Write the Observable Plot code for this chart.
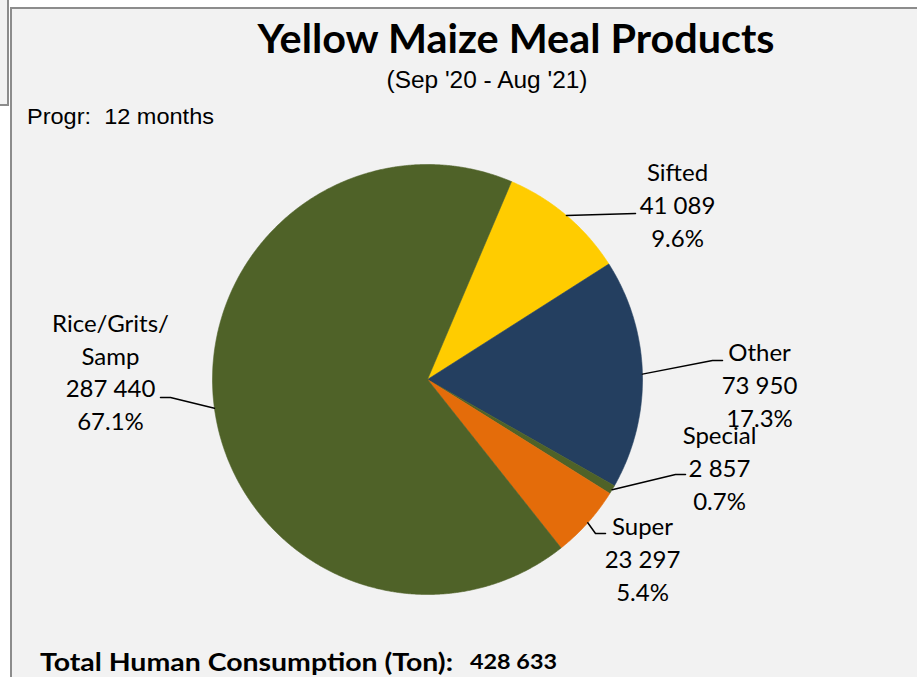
<!DOCTYPE html>
<html><head><meta charset="utf-8">
<script src="https://cdn.jsdelivr.net/npm/d3@7"></script>
<script src="https://cdn.jsdelivr.net/npm/@observablehq/plot@0.6"></script>
<style>
html,body{margin:0;padding:0;background:#fff;width:917px;height:677px;overflow:hidden;position:relative;}
#side{position:absolute;left:0;top:0;width:7px;height:104px;background:#f2f2f2;border-right:2px solid #8c8c8c;border-bottom:2px solid #8c8c8c;}
#panel{position:absolute;left:10px;top:7px;width:930px;height:690px;background:#f2f2f2;border-left:2px solid #8c8c8c;border-top:2px solid #8c8c8c;}
#chart{position:absolute;left:0;top:0;}
.t{position:absolute;white-space:nowrap;color:#000;line-height:1;}
#title{left:516px;top:38px;font:bold 40px Lato,sans-serif;}
#sub{left:487px;top:80px;font:23px "Liberation Sans",Arial,sans-serif;}
#progr{left:27px;top:117px;font:22px "Liberation Sans",Arial,sans-serif;}
#total{left:40px;top:661px;font:bold 24px Lato,sans-serif;}
#totalv{left:470px;top:660px;font:bold 21px Lato,sans-serif;}
</style></head><body>
<div id="side"></div><div id="panel"></div>
<div id="chart"></div>
<div class="t" id="title">Yellow Maize Meal Products</div>
<div class="t" id="sub">(Sep '20 - Aug '21)</div>
<div class="t" id="progr">Progr:&nbsp; 12 months</div>
<div class="t" id="total">Total Human Consumption (Ton):</div>
<div class="t" id="totalv"></div>
<script>
// ---- data ----
const categories = ["Sifted", "Other", "Special", "Super", "Rice/Grits/\nSamp"];
const values = [41089, 73950, 2857, 23297, 287440];
const palette = ["#FFCC00", "#243F60", "#4F6228", "#E46C0A", "#4F6228"];
const startDeg = 23;

// ---- layout (pixels) ----
const W = 917, H = 677, cx = 427, cy = 379, R = 215;
// label block centre and leader-line elbow/end points
const labelPos = [[677, 203], [759, 383], [719, 466], [642, 557], [110, 370]];
const leaderEnds = [
  [[635, 213]],
  [[712, 360], [722, 360]],
  [[675, 474], [685, 474]],
  [[595, 533], [605, 533]],
  [[170, 397], [160, 397]]
];

const fmt = d3.formatLocale({thousands: " ", grouping: [3], decimal: ".", currency: ["", ""]}).format(",");
const total = d3.sum(values);
document.getElementById("totalv").textContent = fmt(total);

const toX = px => (px - cx) / R, toY = py => (cy - py) / R;
const start = startDeg * Math.PI / 180;
const arcs = d3.pie().sort(null).startAngle(start).endAngle(start + 2 * Math.PI)(values);

const slices = arcs.map((a, i) => {
  const pts = [{x: 0, y: 0}];
  const n = Math.max(4, Math.ceil((a.endAngle - a.startAngle) / 0.005));
  for (let k = 0; k <= n; k++) {
    const t = a.startAngle + (a.endAngle - a.startAngle) * k / n;
    pts.push({x: Math.sin(t), y: Math.cos(t)});
  }
  pts.push({x: 0, y: 0});
  return pts;
});

const leaders = arcs.flatMap((a, i) => {
  const m = (a.startAngle + a.endAngle) / 2;
  return [{name: i, x: Math.sin(m), y: Math.cos(m)},
    ...leaderEnds[i].map(([px, py]) => ({name: i, x: toX(px), y: toY(py)}))];
});

const labels = categories.map((c, i) => ({
  x: toX(labelPos[i][0]), y: toY(labelPos[i][1]),
  text: `${c}\n${fmt(values[i])}\n${(values[i] / total * 100).toFixed(1)}%`
}));

const plot = Plot.plot({
  width: W, height: H, margin: 0,
  x: {domain: [-cx / R, (W - cx) / R], range: [0, W], axis: null},
  y: {domain: [-(H - cy) / R, cy / R], range: [H, 0], axis: null},
  style: {background: "transparent", overflow: "visible"},
  marks: [
    ...slices.map((pts, i) => Plot.line(pts, {x: "x", y: "y", fill: palette[i], stroke: palette[i], strokeWidth: 0.6, curve: "linear"})),
    Plot.line(leaders, {x: "x", y: "y", z: "name", stroke: "#000", strokeWidth: 1.5}),
    Plot.text(labels, {x: "x", y: "y", text: "text", fontFamily: "Lato, sans-serif", fontSize: 24, lineHeight: 1.37, lineAnchor: "middle", textAnchor: "middle", fill: "#000"})
  ]
});
document.getElementById("chart").appendChild(plot);

// fit header/footer texts to the reference widths
function fit(id, target, centered) {
  const el = document.getElementById(id);
  const w = el.getBoundingClientRect().width;
  const s = target / w;
  if (centered) {
    el.style.transformOrigin = "50% 50%";
    el.style.transform = `translate(-50%,-50%) scaleX(${s})`;
  } else {
    el.style.transformOrigin = "0 50%";
    el.style.transform = `translateY(-50%) scaleX(${s})`;
  }
}
fit("title", 517, true);
fit("sub", 201, true);
fit("progr", 187, false);
fit("total", 413, false);
fit("totalv", 87, false);
</script>
</body></html>
